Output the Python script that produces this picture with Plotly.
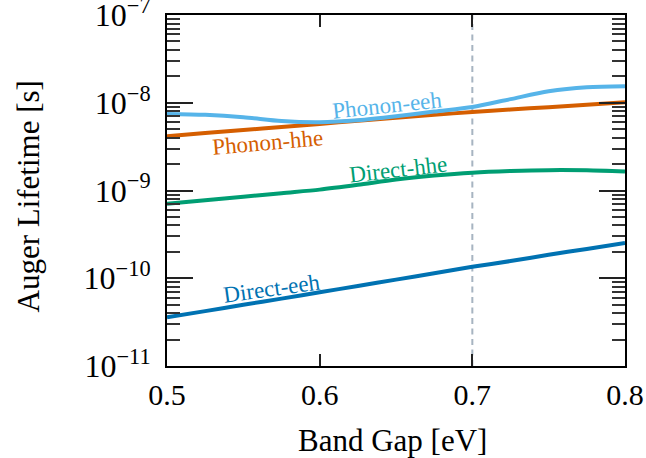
import math
import plotly.graph_objects as go

# Band gap grid [eV]
band_gap = [0.500, 0.525, 0.550, 0.575, 0.600, 0.625, 0.650,
            0.675, 0.700, 0.725, 0.750, 0.775, 0.800]

# Auger lifetimes [s] for each mechanism
direct_eeh = [3.59e-11, 4.22e-11, 4.98e-11, 5.86e-11, 6.92e-11, 8.17e-11, 9.64e-11,
              1.14e-10, 1.35e-10, 1.57e-10, 1.85e-10, 2.16e-10, 2.53e-10]
direct_hhe = [7.05e-10, 7.73e-10, 8.47e-10, 9.33e-10, 1.023e-9, 1.161e-9, 1.334e-9,
              1.479e-9, 1.596e-9, 1.667e-9, 1.706e-9, 1.698e-9, 1.648e-9]
phonon_hhe = [4.16e-9, 4.51e-9, 4.89e-9, 5.30e-9, 5.74e-9, 6.24e-9, 6.76e-9,
              7.29e-9, 7.85e-9, 8.38e-9, 8.91e-9, 9.52e-9, 1.012e-8]
phonon_eeh = [7.45e-9, 7.28e-9, 6.84e-9, 6.19e-9, 6.00e-9, 6.31e-9, 7.00e-9,
              7.94e-9, 8.95e-9, 1.10e-8, 1.349e-8, 1.50e-8, 1.538e-8]

series_names = ["Direct-eeh", "Direct-hhe", "Phonon-hhe", "Phonon-eeh"]
series_values = [direct_eeh, direct_hhe, phonon_hhe, phonon_eeh]
series_colors = ["#0072B2", "#009E73", "#D55E00", "#56B4E9"]

# In-plot label placement: (band gap, lifetime, rotation)
label_x = [0.569, 0.6516, 0.5657, 0.6441]
label_y = [7.74e-11, 1.75e-9, 3.55e-9, 9.4e-9]
label_angle = [-8, -6.5, -5, -6]

marker_gap = 0.7  # dashed reference band gap

x_ticks = [0.5, 0.6, 0.7, 0.8]
x_ticktext = ["0.5", "0.6", "0.7", "0.8"]
y_ticks = [1e-11, 1e-10, 1e-9, 1e-8, 1e-7]
y_ticktext = ["10<sup>\u221211</sup>", "10<sup>\u221210</sup>", "10<sup>\u22129</sup>",
              "10<sup>\u22128</sup>", "10<sup>\u22127</sup>"]
y_minor = [m * d for d in [1e-11, 1e-10, 1e-9, 1e-8] for m in range(2, 10)]

FONT = "Liberation Serif"

fig = go.Figure()

fig.add_trace(go.Scatter(
    x=[marker_gap, marker_gap], y=[1e-11, 1e-7], mode="lines",
    line=dict(color="rgba(120,140,160,0.65)", width=2, dash="6px,4.5px"),
    hoverinfo="skip", showlegend=False))

for name, vals, col in zip(series_names, series_values, series_colors):
    fig.add_trace(go.Scatter(
        x=band_gap, y=vals, mode="lines", name=name,
        line=dict(color=col, width=4, shape="spline", smoothing=0.8),
        showlegend=False))

for name, lx, ly, ang, col in zip(series_names, label_x, label_y, label_angle, series_colors):
    fig.add_annotation(
        x=lx, y=math.log10(ly), xref="x", yref="y", text=name, showarrow=False,
        textangle=ang, xanchor="center", yanchor="middle",
        font=dict(family=FONT, size=23, color=col))

fig.add_annotation(
    x=(392.5 - 167) / 458, y=(366 - 440) / 351, xref="paper", yref="paper",
    text="Band Gap [eV]", showarrow=False, xanchor="center", yanchor="middle",
    font=dict(family=FONT, size=31, color="black"))
fig.add_annotation(
    x=(28 - 167) / 458, y=(366 - 196.5) / 351, xref="paper", yref="paper",
    text="Auger Lifetime [s]", showarrow=False, textangle=-90,
    xanchor="center", yanchor="middle",
    font=dict(family=FONT, size=31, color="black"))

fig.update_xaxes(
    range=[0.5, 0.8], tickmode="array", tickvals=x_ticks, ticktext=x_ticktext,
    ticks="inside", ticklen=12, tickwidth=1.5, tickcolor="#222",
    showline=True, linewidth=2, linecolor="black", mirror="ticks",
    showgrid=False, zeroline=False, ticklabelstandoff=1, automargin=False,
    ticklabeloverflow="allow",
    tickfont=dict(family=FONT, size=30, color="black"))
fig.update_yaxes(
    type="log", range=[-11.00001, -6.99999], tickmode="array",
    tickvals=y_ticks, ticktext=y_ticktext,
    ticks="inside", ticklen=26, tickwidth=1.5, tickcolor="#222",
    minor=dict(tickmode="array", tickvals=y_minor, ticks="inside", ticklen=13,
               tickwidth=1.5, tickcolor="#333", showgrid=False),
    showline=True, linewidth=2, linecolor="black", mirror="ticks",
    showgrid=False, zeroline=False, ticklabelstandoff=8, automargin=False,
    ticklabeloverflow="allow",
    tickfont=dict(family=FONT, size=32, color="black"))

fig.update_layout(
    width=646, height=458,
    margin=dict(l=167, r=21, t=15, b=92),
    paper_bgcolor="white", plot_bgcolor="white",
    font=dict(family=FONT, color="black"))

fig.write_html("out.html")
